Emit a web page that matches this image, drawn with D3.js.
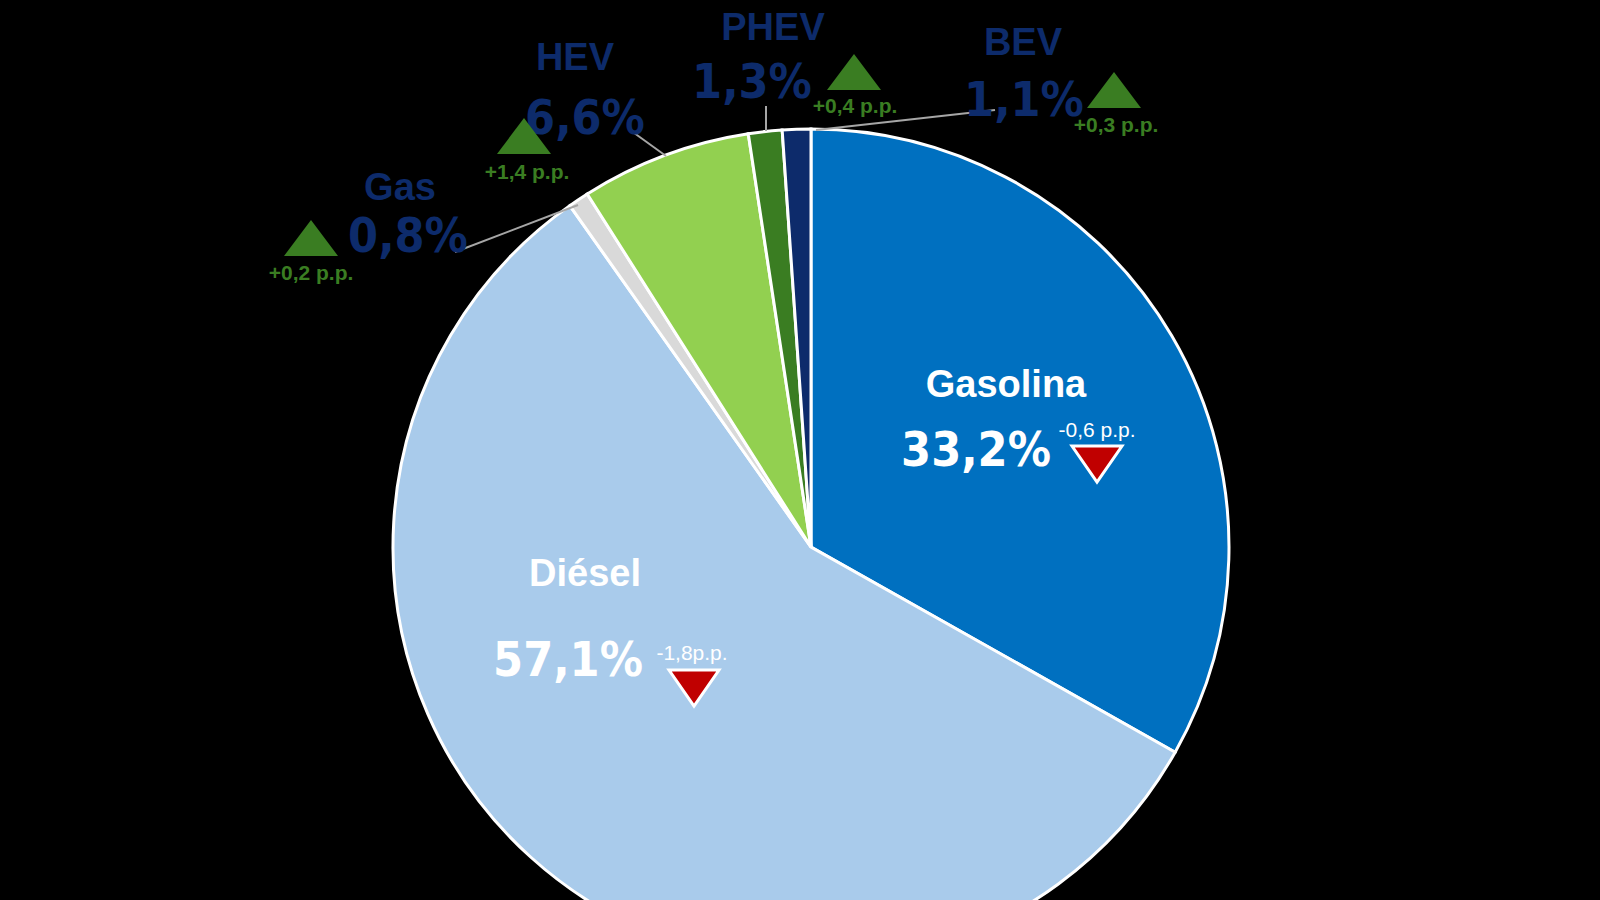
<!DOCTYPE html>
<html><head><meta charset="utf-8">
<script src="https://cdn.jsdelivr.net/npm/d3@7"></script>
<style>body{margin:0;background:#000;}svg{display:block;}</style>
</head><body>
<div id="chart"></div>
<script>
var categories = ['Gasolina', 'Diésel', 'Gas', 'HEV', 'PHEV', 'BEV'];
var shares = [33.2, 57.1, 0.8, 6.6, 1.3, 1.1];
var shareLabels = ['33,2%', '57,1%', '0,8%', '6,6%', '1,3%', '1,1%'];
var deltaLabels = ['-0,6 p.p.', '-1,8p.p.', '+0,2 p.p.', '+1,4 p.p.', '+0,4 p.p.', '+0,3 p.p.'];
var deltaUp = [false, false, true, true, true, true];
var colors = ['#0070c0', '#a9cbeb', '#d9d9d9', '#92d050', '#3a7d22', '#0d2b6b'];

// label layout: name, value, delta text, triangle
var layout = [
    {n: [1006, 384], v: [976, 450], d: [1097, 430], t: [1097, 464], inside: true},
    {n: [585, 573], v: [568, 660], d: [692, 653], t: [694, 688], inside: true},
    {n: [400, 187], v: [408, 236], d: [311, 273], t: [311, 238], line: [[455, 252], [578, 205]]},
    {n: [575, 57], v: [585, 118], d: [527, 172], t: [524, 136], line: [[630, 130], [666, 156]]},
    {n: [773, 27], v: [752, 82], d: [855, 106], t: [854, 72], line: [[766, 106], [766, 131]]},
    {n: [1023, 42], v: [1024, 100], d: [1116, 125], t: [1114, 90], line: [[995, 110], [816, 130]]}
];

var width = 1600, height = 900, cx = 811, cy = 547, r = 418;
var svg = d3.select('#chart').append('svg').attr('width', width).attr('height', height)
    .style('background', '#000');

var pie = d3.pie().sort(null).value(function (d) { return d; });
var arc = d3.arc().innerRadius(0).outerRadius(r);

svg.append('g').attr('transform', 'translate(' + cx + ',' + cy + ')')
    .selectAll('path').data(pie(shares)).enter().append('path')
    .attr('d', arc)
    .attr('fill', function (d, i) { return colors[i]; })
    .attr('stroke', '#fff').attr('stroke-width', 3);

var narrow = '"Liberation Sans Narrow","DejaVu Sans Condensed",sans-serif';
var navy = '#0d2b6b', green = '#3a7d22';

layout.forEach(function (L, i) {
    var g = svg.append('g');
    if (L.line) {
        g.append('polyline').attr('points', L.line.map(function (p) { return p.join(','); }).join(' '))
            .attr('fill', 'none').attr('stroke', '#a6a6a6').attr('stroke-width', 2);
    }
    g.append('text').attr('x', L.n[0]).attr('y', L.n[1] + 13)
        .attr('text-anchor', 'middle').attr('font-family', 'Arial,"Liberation Sans",sans-serif')
        .attr('font-weight', 'bold').attr('font-size', L.inside ? 38 : 38)
        .attr('fill', L.inside ? '#fff' : navy).text(categories[i]);
    g.append('text').attr('x', L.v[0]).attr('y', L.v[1] + 16)
        .attr('text-anchor', 'middle').attr('font-family', narrow)
        .attr('font-weight', 'bold').attr('font-size', 48)
        .attr('fill', L.inside ? '#fff' : navy).text(shareLabels[i]);
    g.append('text').attr('x', L.d[0]).attr('y', L.d[1] + 7)
        .attr('text-anchor', 'middle').attr('font-family', 'Arial,"Liberation Sans",sans-serif')
        .attr('font-weight', L.inside ? 'normal' : 'bold').attr('font-size', 21)
        .attr('fill', L.inside ? '#fff' : green).text(deltaLabels[i]);
    var w = L.inside ? 25 : 27, h = 18;
    var tri = deltaUp[i]
        ? [[L.t[0] - w, L.t[1] + h], [L.t[0] + w, L.t[1] + h], [L.t[0], L.t[1] - h]]
        : [[L.t[0] - w, L.t[1] - h], [L.t[0] + w, L.t[1] - h], [L.t[0], L.t[1] + h]];
    g.append('polygon').attr('points', tri.map(function (p) { return p.join(','); }).join(' '))
        .attr('fill', deltaUp[i] ? green : '#c00000')
        .attr('stroke', L.inside ? '#fff' : 'none').attr('stroke-width', 3);
});
</script>
</body></html>
